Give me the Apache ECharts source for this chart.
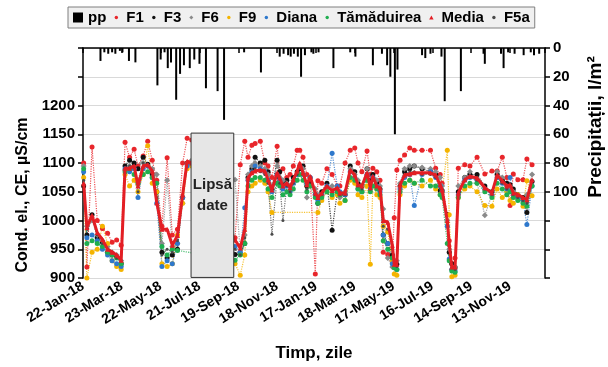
<!DOCTYPE html>
<html>
<head>
<meta charset="utf-8">
<script src="https://cdn.jsdelivr.net/npm/echarts@6/dist/echarts.min.js"></script>
<style>
html,body{margin:0;padding:0;background:#fff}
#chart{width:608px;height:367px}
</style>
</head>
<body>
<div id="chart"></div>
<script>
// sampling dates (same for every spring)
const sampleDates = [
  '2018-01-23','2018-01-28','2018-02-05','2018-02-13','2018-02-21','2018-03-01','2018-03-08','2018-03-15','2018-03-22','2018-03-28',
  '2018-04-04','2018-04-11','2018-04-17','2018-04-25','2018-05-02','2018-05-09','2018-05-16','2018-05-24','2018-06-01','2018-06-09',
  '2018-06-17','2018-06-25','2018-07-02','2018-07-09',
  '2018-09-14','2018-09-22','2018-09-29','2018-10-04','2018-10-10','2018-10-15','2018-10-23','2018-10-30','2018-11-04','2018-11-10',
  '2018-11-18','2018-11-22','2018-11-27','2018-12-03','2018-12-08','2018-12-13','2018-12-19','2018-12-23','2018-12-28','2019-01-03',
  '2019-01-08','2019-01-16','2019-01-20','2019-01-26','2019-02-03','2019-02-11','2019-02-19','2019-02-23','2019-03-03','2019-03-11',
  '2019-03-18','2019-03-23','2019-03-29','2019-04-06','2019-04-11','2019-04-15','2019-04-21','2019-04-26','2019-05-01','2019-05-08',
  '2019-05-15','2019-05-18','2019-05-22','2019-05-27','2019-06-03','2019-06-11','2019-06-18','2019-06-30','2019-07-13','2019-07-21',
  '2019-07-28','2019-07-31','2019-08-08','2019-08-11','2019-08-15','2019-08-20','2019-08-25','2019-09-04','2019-09-12','2019-09-23',
  '2019-10-05','2019-10-16','2019-10-24','2019-11-01','2019-11-08','2019-11-13','2019-11-18','2019-11-25','2019-12-03','2019-12-09',
  '2019-12-17'
];

const f1 = [
  1100,919,1128,1000,986,978,962,966,957,1136,1110,1124,1095,1112,1138,1105,1070,990,1109,975,985,1100,1143,1140,
  970,1097,1138,1110,1131,1134,1138,1100,1095,1075,1129,1085,1090,1075,1080,1095,1122,1122,1110,1080,
  1075,907,1069,1065,1090,1080,1060,1060,1100,1122,1126,1100,1085,1121,1080,1091,1085,1070,945,941,
  930,1005,1088,1105,1114,1126,1122,1122,1122,1091,1080,1065,1010,965,925,935,1091,1097,1095,1110,
  1081,1086,1086,1110,1075,1026,1081,1071,1071,1107,1097
];
const f3 = [
  1060,975,1010,970,962,945,940,938,925,1095,1105,1100,1090,1110,1098,1080,1050,945,935,940,950,1040,1100,1100,
  941,941,960,1075,1090,1110,1100,1105,1085,1055,1105,1085,1065,1070,1060,1075,1085,1090,1095,1060,
  1068,1045,1030,1050,1065,983,1050,1045,1045,1095,1085,1065,1060,1090,1070,1080,1065,1055,975,960,
  940,930,924,1060,1085,1090,1095,1090,1085,1080,1052,1052,1010,945,925,918,1050,1075,1080,1080,
  1060,1050,1080,1070,1065,1062,1055,1045,1040,1014,1068
];
const f6 = [
  1095,990,1000,975,965,955,945,940,930,1088,1095,1090,1070,1100,1095,1090,1080,960,1070,955,960,1030,1100,1105,
  1071,945,975,1080,1095,1100,1095,1090,1080,1060,1095,1075,1070,1065,1060,1070,1080,1095,1090,1040,
  1075,1055,1045,1045,1055,1060,1050,1040,1050,1090,1080,1070,1060,1090,1060,1075,1070,1060,1020,935,
  919,925,930,1065,1090,1095,1095,1092,1090,1085,1075,1060,1000,950,915,920,1060,1075,1085,1065,
  1009,1045,1085,1075,1060,1055,1050,1040,1035,1045,1080
];
const f9 = [
  1075,900,945,950,990,960,930,920,915,1080,1060,1070,1050,1080,1130,1065,1050,925,920,925,975,1030,1090,1095,
  925,905,940,1050,1060,1065,1070,1065,1050,1014,null,null,null,null,null,null,null,null,null,null,
  null,null,1014,1035,1050,1040,1045,1030,1035,1070,1065,1045,1040,1060,924,1060,1045,1040,990,980,
  930,907,905,1045,1060,1070,1065,1060,1070,1055,1045,1050,1122,1010,902,905,1040,1055,1060,1050,
  1026,1025,1055,1040,1050,1035,1030,1045,1025,1069,1043
];
const diana = [
  1085,970,975,965,950,940,930,925,920,1090,1085,1090,1040,1090,1095,1075,1030,920,930,925,960,1040,1095,1100,
  955,945,1022,1070,1085,1095,1090,1085,1070,1050,1080,1070,1055,1060,1050,1065,1080,1095,1080,1065,
  1075,1045,1035,1045,1060,1117,1060,1050,1045,1085,1075,1055,1050,1080,1055,1075,1060,1050,975,960,
  925,920,915,1055,1075,1080,1026,1080,1085,1075,1060,1050,990,933,915,912,1045,1070,1075,1070,
  1055,1045,1075,1065,1055,1075,1045,1040,1035,993,1060
];
const tamaduirea = [
  1090,960,965,960,955,945,940,935,925,1085,1090,1080,1065,1080,1085,1075,1065,955,940,950,948,null,null,null,
  931,940,960,1060,1070,1075,1075,1070,1055,1040,1065,1060,1045,1050,1045,1055,1070,1080,1070,1050,
  1060,1040,1030,1040,1050,1045,1050,1045,1035,1075,1070,1055,1050,1070,1050,1060,1055,1045,965,950,
  935,918,915,1050,1065,1070,1065,1070,1060,1060,1045,1040,960,930,912,910,1040,1060,1065,1065,
  1050,1040,1065,1055,1045,1050,1040,1035,1030,1025,1060
];
const media = [
  1065,988,1009,979,967,950,945,940,931,1091,1091,1095,1060,1095,1097,1086,1031,985,985,957,974,1045,1103,1100,
  966,952,985,1074,1083,1086,1088,1086,1071,1053,1083,1074,1060,1065,1057,1071,1086,1100,1083,1062,
  1077,1048,1040,1048,1060,1052,1057,1048,1048,1088,1079,1062,1060,1083,1057,1077,1060,1057,1000,997,
  957,924,924,1062,1079,1081,1083,1083,1083,1079,1062,1053,1000,959,919,919,1048,1071,1077,1074,
  1057,1048,1079,1069,1060,1062,1048,1045,1040,1036,1071
];
const f5a = [
  1070,985,1005,975,960,950,945,935,930,1090,1095,1095,1050,1100,1095,1085,1040,940,950,945,965,1045,1100,1100,
  950,940,970,1075,1085,1090,1085,1080,1065,976,1075,1065,1000,1060,1050,1065,1080,1090,1080,1055,
  1070,1045,1040,1045,1060,1050,1055,1045,1045,1085,1080,1060,1055,1080,1055,1070,1060,1050,990,985,
  950,925,920,1060,1080,1085,1085,1080,1080,1075,1055,1050,995,955,918,915,1045,1070,1075,1070,
  1055,1045,1075,1065,1055,1060,1045,1040,1035,1030,1068
];

// precipitation, l/m2
const ppDates = [
  '2018-02-18','2018-02-24','2018-03-02','2018-03-08','2018-03-13','2018-03-20','2018-03-24','2018-04-03','2018-04-13',
  '2018-05-17','2018-05-22','2018-05-28','2018-06-02','2018-06-07','2018-06-15','2018-06-21','2018-06-27','2018-07-06',
  '2018-07-13','2018-07-21','2018-07-31','2018-08-18','2018-08-28','2018-09-28','2018-10-24','2018-11-22','2018-11-28',
  '2018-12-05','2018-12-09','2018-12-14','2018-12-20','2018-12-25','2018-12-31','2019-01-10','2019-01-13','2019-01-21',
  '2019-02-13','2019-03-11','2019-03-19','2019-04-15','2019-04-29','2019-05-07','2019-05-12','2019-05-19','2019-05-23',
  '2019-06-30','2019-07-05','2019-07-13','2019-07-30','2019-08-04','2019-08-29','2019-10-03','2019-10-05','2019-10-30',
  '2019-11-03','2019-11-10','2019-11-20','2019-12-04','2019-12-15','2019-12-20','2019-12-28'
];
const ppValues = [
  9,3,4,3,4,2,3,9,10,
  26,8,3,14,10,36,18,12,14,
  8,11,28,30,50,3,17,6,4,
  5,6,4,6,20,5,3,4,3,
  14,3,6,12,4,12,20,60,15,
  5,7,4,6,37,30,4,11,4,
  14,3,4,5,3,5,4
];

const gapStart = '2018-07-08';
const gapEnd = '2018-09-12';

const DAY = 86400000;
const base = Date.UTC(2018, 0, 22);
const toDay = s => (Date.parse(s) - base) / DAY;
const MONTHS = ['Jan','Feb','Mar','Apr','May','Jun','Jul','Aug','Sep','Oct','Nov','Dec'];
function fmtDay(v) {
  const d = new Date(base + v * DAY);
  return d.getUTCDate() + '-' + MONTHS[d.getUTCMonth()] + '-' + String(d.getUTCFullYear()).slice(2);
}
const pts = arr => sampleDates.map((s, i) => [toDay(s), arr[i]]).filter(p => p[1] != null);

const font = '"Liberation Sans", Arial, sans-serif';
// small icons inside a 10x10 box so the legend square for pp stays bigger
const dotIcon = 'path://M0,0M10,10M5,3.3A1.7,1.7,0,1,1,5,6.7A1.7,1.7,0,1,1,5,3.3Z';
const diaIcon = 'path://M0,0M10,10M5,3L7,5L5,7L3,5Z';
const triIcon = 'path://M0,0M10,10M5,3L7.2,7L2.8,7Z';

function spring(name, data, color, symbol, size) {
  return {
    name, type: 'line', data: pts(data), connectNulls: true,
    symbol, symbolSize: size,
    itemStyle: {color},
    lineStyle: {color, width: 1.2, type: 'dotted', opacity: 0.8},
    z: 3
  };
}

const chart = echarts.init(document.getElementById('chart'));
chart.setOption({
  animation: false,
  backgroundColor: '#fff',
  textStyle: {fontFamily: font},
  grid: {left: 83, right: 63, top: 48, bottom: 86},
  legend: {
    left: 68, top: 7, padding: [3, 5, 3, 5], itemGap: 5,
    itemWidth: 10, itemHeight: 10,
    borderColor: '#7f7f7f', borderWidth: 1, backgroundColor: '#f0f0f0',
    selectedMode: false,
    textStyle: {fontWeight: 'bold', fontSize: 15, color: '#000', fontFamily: font},
    data: [
      {name: 'pp', icon: 'rect'},
      {name: 'F1', icon: dotIcon},
      {name: 'F3', icon: dotIcon},
      {name: 'F6', icon: diaIcon},
      {name: 'F9', icon: dotIcon},
      {name: 'Diana', icon: dotIcon},
      {name: 'Tămăduirea', icon: dotIcon},
      {name: 'Media', icon: triIcon},
      {name: 'F5a', icon: dotIcon}
    ]
  },
  xAxis: {
    type: 'value', min: 0, max: 714, interval: 60,
    name: 'Timp, zile', nameLocation: 'middle', nameGap: 67,
    nameTextStyle: {fontWeight: 'bold', fontSize: 17, color: '#000', fontFamily: font},
    axisLine: {lineStyle: {color: '#000', width: 1.5}},
    axisTick: {length: 5, lineStyle: {color: '#000', width: 1.5}},
    splitLine: {show: false},
    axisLabel: {
      rotate: 32, fontWeight: 'bold', fontSize: 14, color: '#000', margin: 7,
      formatter: v => (v % 60 === 0 ? fmtDay(v) : '')
    }
  },
  yAxis: [
    {
      type: 'value', min: 900, max: 1300, interval: 50,
      axisLine: {show: true, lineStyle: {color: '#000', width: 1.5}},
      axisTick: {show: true, length: 5, lineStyle: {color: '#000', width: 1.5}},
      splitLine: {lineStyle: {color: '#d9d9d9', width: 1}},
      axisLabel: {fontWeight: 'bold', fontSize: 15, color: '#000', margin: 8,
        formatter: v => (v <= 1200 ? String(v) : '')}
    },
    {
      type: 'value', min: 0, max: 160, interval: 20, inverse: true, position: 'right',
      axisLine: {show: true, lineStyle: {color: '#000', width: 1.5}},
      axisTick: {show: true, length: 5, lineStyle: {color: '#000', width: 1.5}},
      splitLine: {show: false},
      axisLabel: {fontWeight: 'bold', fontSize: 15, color: '#000', margin: 8,
        formatter: v => (v <= 100 ? String(v) : '')}
    }
  ],
  graphic: [
    {type: 'text', rotation: Math.PI / 2, position: [23, 195],
      style: {text: 'Cond. el., CE, µS/cm', font: 'bold 16px ' + font, fill: '#000', textAlign: 'center', textVerticalAlign: 'middle'}},
    {type: 'text', rotation: Math.PI / 2, position: [596, 127],
      style: {text: 'Precipitații, l/m²', font: 'bold 19px ' + font, fill: '#000', textAlign: 'center', textVerticalAlign: 'middle'}}
  ],
  series: [
    {
      name: 'pp', type: 'bar', yAxisIndex: 1, barWidth: 2,
      data: ppDates.map((s, i) => [toDay(s), ppValues[i]]),
      itemStyle: {color: '#000'}, z: 1
    },
    spring('F1', f1, '#e8262b', 'circle', 5),
    spring('F3', f3, '#111111', 'circle', 5),
    spring('F6', f6, '#8a8a8a', 'diamond', 6),
    spring('F9', f9, '#f4b400', 'circle', 5),
    spring('Diana', diana, '#2e78cc', 'circle', 5),
    spring('Tămăduirea', tamaduirea, '#1fae4f', 'circle', 5),
    spring('F5a', f5a, '#4a4a4a', 'circle', 3),
    {
      name: 'Media', type: 'line', data: pts(media),
      symbol: 'triangle', symbolSize: 5,
      itemStyle: {color: '#e31e24'},
      lineStyle: {color: '#e31e24', width: 3},
      z: 6
    },
    {
      name: 'gap', type: 'line', data: [], z: 10,
      markArea: {
        silent: true, z: 100,
        itemStyle: {color: '#e6e6e6', borderColor: '#333', borderWidth: 1, opacity: 1},
        label: {show: true, position: 'inside', offset: [0, -10], formatter: 'Lipsă\ndate',
          fontWeight: 'bold', fontSize: 15, lineHeight: 21, color: '#222', fontFamily: font},
        data: [[{xAxis: toDay(gapStart), yAxis: 901}, {xAxis: toDay(gapEnd), yAxis: 1152}]]
      }
    }
  ]
});
</script>
</body>
</html>
